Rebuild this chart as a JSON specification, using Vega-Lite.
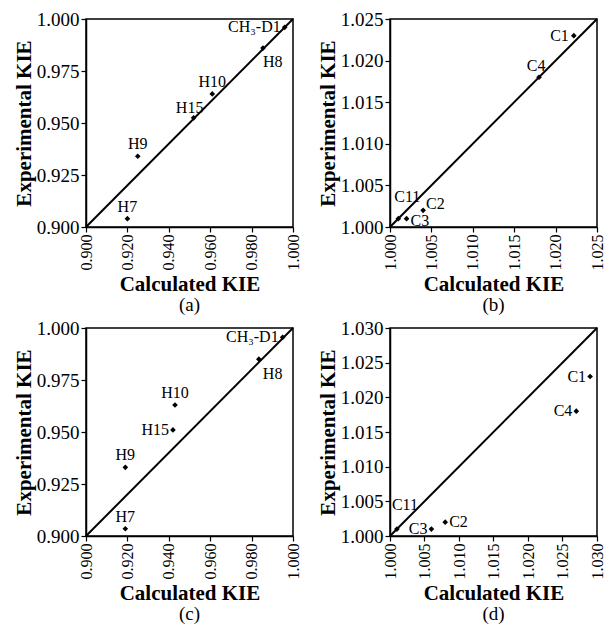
{
  "$schema": "https://vega.github.io/schema/vega-lite/v6.json",
  "padding": {"left": 12, "top": 9, "right": 5, "bottom": 2},
  "background": "white",
  "config": {
    "font": "Liberation Serif",
    "view": {"stroke": "black", "strokeWidth": 1.5},
    "text": {"font": "Liberation Serif"},
    "axis": {
      "grid": false,
      "domainColor": "black",
      "domainWidth": 1.5,
      "tickColor": "black",
      "tickWidth": 1.2,
      "tickSize": 5,
      "labelColor": "black",
      "titleColor": "black",
      "labelFont": "Liberation Serif",
      "titleFont": "Liberation Serif",
      "titleFontWeight": "bold",
      "titleFontSize": 21,
      "labelPadding": 2,
      "titlePadding": 3,
      "labelOverlap": false,
      "labelFlush": false
    },
    "axisX": {"labelAngle": -90, "labelFontSize": 16, "labelBaseline": "middle", "labelAlign": "right"},
    "axisY": {"labelFontSize": 19, "titlePadding": 2},
    "title": {"font": "Liberation Serif", "fontSize": 19, "fontWeight": "normal", "color": "black", "orient": "bottom", "offset": 2}
  },
  "spacing": {"row": 2, "column": 14},
  "columns": 2,
  "datasets": {
    "kie": [
      {"panel": "a", "label": "CH₃-D1", "calc": 0.996, "exp": 0.996, "pos": "left"},
      {"panel": "a", "label": "H8", "calc": 0.9855, "exp": 0.986, "pos": "belowright"},
      {"panel": "a", "label": "H10", "calc": 0.961, "exp": 0.964, "pos": "above"},
      {"panel": "a", "label": "H15", "calc": 0.952, "exp": 0.9525, "pos": "aboveleft"},
      {"panel": "a", "label": "H9", "calc": 0.925, "exp": 0.934, "pos": "above"},
      {"panel": "a", "label": "H7", "calc": 0.920, "exp": 0.904, "pos": "above"},
      {"panel": "b", "label": "C1", "calc": 1.0222, "exp": 1.023, "pos": "left"},
      {"panel": "b", "label": "C4", "calc": 1.018, "exp": 1.018, "pos": "above"},
      {"panel": "b", "label": "C11", "calc": 1.001, "exp": 1.001, "pos": "aboveright"},
      {"panel": "b", "label": "C3", "calc": 1.002, "exp": 1.001, "pos": "right"},
      {"panel": "b", "label": "C2", "calc": 1.004, "exp": 1.002, "pos": "upright"},
      {"panel": "c", "label": "CH₃-D1", "calc": 0.995, "exp": 0.9955, "pos": "left"},
      {"panel": "c", "label": "H8", "calc": 0.9835, "exp": 0.985, "pos": "belowright"},
      {"panel": "c", "label": "H10", "calc": 0.943, "exp": 0.963, "pos": "above"},
      {"panel": "c", "label": "H15", "calc": 0.942, "exp": 0.951, "pos": "left"},
      {"panel": "c", "label": "H9", "calc": 0.919, "exp": 0.933, "pos": "above"},
      {"panel": "c", "label": "H7", "calc": 0.919, "exp": 0.9035, "pos": "above"},
      {"panel": "d", "label": "C1", "calc": 1.029, "exp": 1.023, "pos": "left"},
      {"panel": "d", "label": "C4", "calc": 1.027, "exp": 1.018, "pos": "left"},
      {"panel": "d", "label": "C11", "calc": 1.001, "exp": 1.001, "pos": "aboveright"},
      {"panel": "d", "label": "C3", "calc": 1.006, "exp": 1.001, "pos": "left"},
      {"panel": "d", "label": "C2", "calc": 1.008, "exp": 1.002, "pos": "right"}
    ],
    "diag": [
      {"panel": "a", "v": 0.9}, {"panel": "a", "v": 1.0},
      {"panel": "b", "v": 1.0}, {"panel": "b", "v": 1.025},
      {"panel": "c", "v": 0.9}, {"panel": "c", "v": 1.0},
      {"panel": "d", "v": 1.0}, {"panel": "d", "v": 1.03}
    ]
  },
  "concat": [
    {
      "width": 207, "height": 208,
      "title": "(a)",
      "layer": [
        {"data": {"name": "diag"}, "transform": [{"filter": "datum.panel === 'a'"}],
         "mark": {"type": "line", "color": "black", "strokeWidth": 2},
         "encoding": {
           "x": {"field": "v", "type": "quantitative", "scale": {"domain": [0.9, 1.0], "nice": false, "zero": false},
                 "axis": {"title": "Calculated KIE", "values": [0.9, 0.92, 0.94, 0.96, 0.98, 1.0], "format": ".3f", "labelOverlap": false}},
           "y": {"field": "v", "type": "quantitative", "scale": {"domain": [0.9, 1.0], "nice": false, "zero": false},
                 "axis": {"title": "Experimental KIE", "values": [0.9, 0.925, 0.95, 0.975, 1.0], "format": ".3f", "labelOverlap": false}}
         }},
        {"data": {"name": "kie"}, "transform": [{"filter": "datum.panel === 'a'"}],
         "layer": [
           {"mark": {"type": "point", "shape": "diamond", "filled": true, "color": "black", "size": 32, "opacity": 1}},
           {"transform": [{"filter": "datum.pos === 'left'"}], "mark": {"type": "text", "font": "Liberation Serif", "align": "right", "baseline": "middle", "dx": -4, "fontSize": 16, "color": "black"}, "encoding": {"text": {"field": "label"}}},
           {"transform": [{"filter": "datum.pos === 'belowright'"}], "mark": {"type": "text", "font": "Liberation Serif", "align": "left", "baseline": "top", "dx": 0, "dy": 6, "fontSize": 16, "color": "black"}, "encoding": {"text": {"field": "label"}}},
           {"transform": [{"filter": "datum.pos === 'above'"}], "mark": {"type": "text", "font": "Liberation Serif", "align": "center", "baseline": "alphabetic", "dy": -7, "fontSize": 16, "color": "black"}, "encoding": {"text": {"field": "label"}}},
           {"transform": [{"filter": "datum.pos === 'aboveleft'"}], "mark": {"type": "text", "font": "Liberation Serif", "align": "center", "baseline": "alphabetic", "dx": -4, "dy": -5, "fontSize": 16, "color": "black"}, "encoding": {"text": {"field": "label"}}}
         ],
         "encoding": {
           "x": {"field": "calc", "type": "quantitative"},
           "y": {"field": "exp", "type": "quantitative"}
         }}
      ]
    },
    {
      "width": 207, "height": 208,
      "title": "(b)",
      "layer": [
        {"data": {"name": "diag"}, "transform": [{"filter": "datum.panel === 'b'"}],
         "mark": {"type": "line", "color": "black", "strokeWidth": 2},
         "encoding": {
           "x": {"field": "v", "type": "quantitative", "scale": {"domain": [1.0, 1.025], "nice": false, "zero": false},
                 "axis": {"title": "Calculated KIE", "values": [1.0, 1.005, 1.01, 1.015, 1.02, 1.025], "format": ".3f", "labelOverlap": false}},
           "y": {"field": "v", "type": "quantitative", "scale": {"domain": [1.0, 1.025], "nice": false, "zero": false},
                 "axis": {"title": "Experimental KIE", "values": [1.0, 1.005, 1.01, 1.015, 1.02, 1.025], "format": ".3f", "labelOverlap": false}}
         }},
        {"data": {"name": "kie"}, "transform": [{"filter": "datum.panel === 'b'"}],
         "layer": [
           {"mark": {"type": "point", "shape": "diamond", "filled": true, "color": "black", "size": 32, "opacity": 1}},
           {"transform": [{"filter": "datum.pos === 'left'"}], "mark": {"type": "text", "font": "Liberation Serif", "align": "right", "baseline": "middle", "dx": -5, "fontSize": 16, "color": "black"}, "encoding": {"text": {"field": "label"}}},
           {"transform": [{"filter": "datum.pos === 'right'"}], "mark": {"type": "text", "font": "Liberation Serif", "align": "left", "baseline": "middle", "dx": 4, "dy": 2, "fontSize": 16, "color": "black"}, "encoding": {"text": {"field": "label"}}},
           {"transform": [{"filter": "datum.pos === 'above'"}], "mark": {"type": "text", "font": "Liberation Serif", "align": "center", "baseline": "alphabetic", "dx": -3, "dy": -6, "fontSize": 16, "color": "black"}, "encoding": {"text": {"field": "label"}}},
           {"transform": [{"filter": "datum.pos === 'aboveright'"}], "mark": {"type": "text", "font": "Liberation Serif", "align": "left", "baseline": "alphabetic", "dx": -4, "dy": -17, "fontSize": 16, "color": "black"}, "encoding": {"text": {"field": "label"}}},
           {"transform": [{"filter": "datum.pos === 'upright'"}], "mark": {"type": "text", "font": "Liberation Serif", "align": "left", "baseline": "middle", "dx": 3, "dy": -6, "fontSize": 16, "color": "black"}, "encoding": {"text": {"field": "label"}}}
         ],
         "encoding": {
           "x": {"field": "calc", "type": "quantitative"},
           "y": {"field": "exp", "type": "quantitative"}
         }}
      ]
    },
    {
      "width": 207, "height": 208,
      "title": "(c)",
      "layer": [
        {"data": {"name": "diag"}, "transform": [{"filter": "datum.panel === 'c'"}],
         "mark": {"type": "line", "color": "black", "strokeWidth": 2},
         "encoding": {
           "x": {"field": "v", "type": "quantitative", "scale": {"domain": [0.9, 1.0], "nice": false, "zero": false},
                 "axis": {"title": "Calculated KIE", "values": [0.9, 0.92, 0.94, 0.96, 0.98, 1.0], "format": ".3f", "labelOverlap": false}},
           "y": {"field": "v", "type": "quantitative", "scale": {"domain": [0.9, 1.0], "nice": false, "zero": false},
                 "axis": {"title": "Experimental KIE", "values": [0.9, 0.925, 0.95, 0.975, 1.0], "format": ".3f", "labelOverlap": false}}
         }},
        {"data": {"name": "kie"}, "transform": [{"filter": "datum.panel === 'c'"}],
         "layer": [
           {"mark": {"type": "point", "shape": "diamond", "filled": true, "color": "black", "size": 32, "opacity": 1}},
           {"transform": [{"filter": "datum.pos === 'left'"}], "mark": {"type": "text", "font": "Liberation Serif", "align": "right", "baseline": "middle", "dx": -4, "fontSize": 16, "color": "black"}, "encoding": {"text": {"field": "label"}}},
           {"transform": [{"filter": "datum.pos === 'belowright'"}], "mark": {"type": "text", "font": "Liberation Serif", "align": "left", "baseline": "top", "dx": 4, "dy": 7, "fontSize": 16, "color": "black"}, "encoding": {"text": {"field": "label"}}},
           {"transform": [{"filter": "datum.pos === 'above'"}], "mark": {"type": "text", "font": "Liberation Serif", "align": "center", "baseline": "alphabetic", "dy": -7, "fontSize": 16, "color": "black"}, "encoding": {"text": {"field": "label"}}}
         ],
         "encoding": {
           "x": {"field": "calc", "type": "quantitative"},
           "y": {"field": "exp", "type": "quantitative"}
         }}
      ]
    },
    {
      "width": 207, "height": 208,
      "title": "(d)",
      "layer": [
        {"data": {"name": "diag"}, "transform": [{"filter": "datum.panel === 'd'"}],
         "mark": {"type": "line", "color": "black", "strokeWidth": 2},
         "encoding": {
           "x": {"field": "v", "type": "quantitative", "scale": {"domain": [1.0, 1.03], "nice": false, "zero": false},
                 "axis": {"title": "Calculated KIE", "values": [1.0, 1.005, 1.01, 1.015, 1.02, 1.025, 1.03], "format": ".3f", "labelOverlap": false, "tickCount": 7}},
           "y": {"field": "v", "type": "quantitative", "scale": {"domain": [1.0, 1.03], "nice": false, "zero": false},
                 "axis": {"title": "Experimental KIE", "values": [1.0, 1.005, 1.01, 1.015, 1.02, 1.025, 1.03], "format": ".3f", "labelOverlap": false, "tickCount": 7}}
         }},
        {"data": {"name": "kie"}, "transform": [{"filter": "datum.panel === 'd'"}],
         "layer": [
           {"mark": {"type": "point", "shape": "diamond", "filled": true, "color": "black", "size": 32, "opacity": 1}},
           {"transform": [{"filter": "datum.pos === 'left'"}], "mark": {"type": "text", "font": "Liberation Serif", "align": "right", "baseline": "middle", "dx": -4, "fontSize": 16, "color": "black"}, "encoding": {"text": {"field": "label"}}},
           {"transform": [{"filter": "datum.pos === 'right'"}], "mark": {"type": "text", "font": "Liberation Serif", "align": "left", "baseline": "middle", "dx": 4, "fontSize": 16, "color": "black"}, "encoding": {"text": {"field": "label"}}},
           {"transform": [{"filter": "datum.pos === 'aboveright'"}], "mark": {"type": "text", "font": "Liberation Serif", "align": "left", "baseline": "alphabetic", "dx": -5, "dy": -19, "fontSize": 16, "color": "black"}, "encoding": {"text": {"field": "label"}}}
         ],
         "encoding": {
           "x": {"field": "calc", "type": "quantitative"},
           "y": {"field": "exp", "type": "quantitative"}
         }}
      ]
    }
  ]
}
